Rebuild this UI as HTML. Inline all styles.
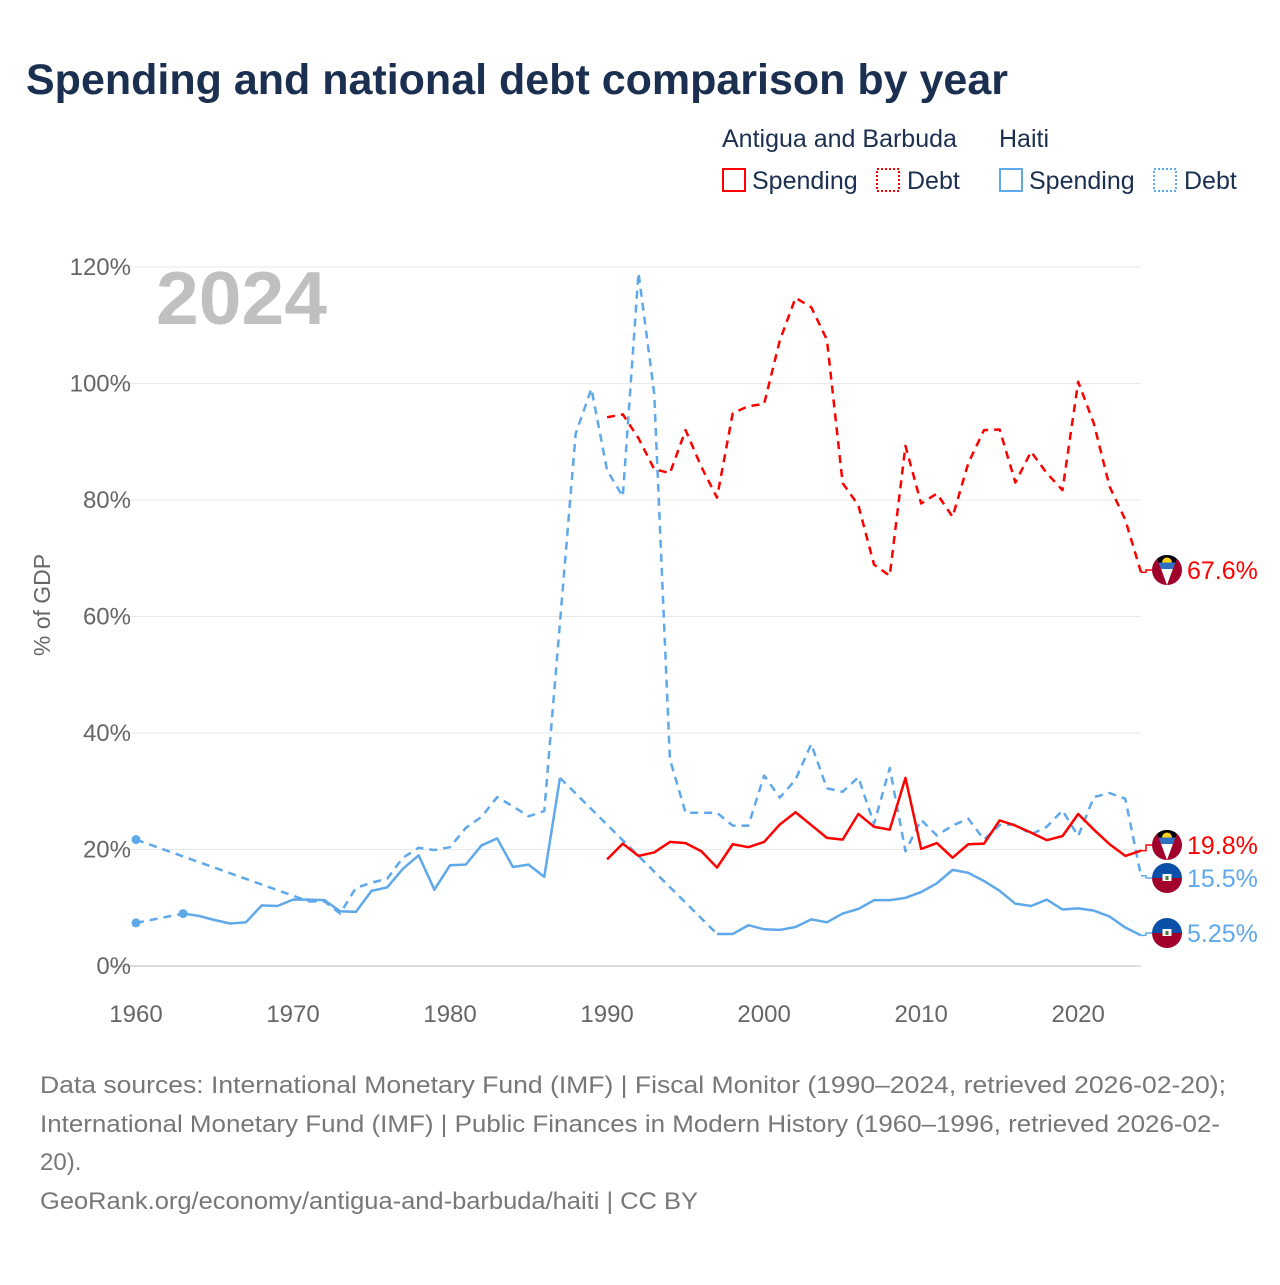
<!DOCTYPE html>
<html><head><meta charset="utf-8">
<style>
body{margin:0;background:#fff;width:1280px;height:1280px;overflow:hidden;font-family:"Liberation Sans",sans-serif}
svg text{font-family:"Liberation Sans",sans-serif}
</style></head>
<body>
<svg id="chart" width="1280" height="1280" viewBox="0 0 1280 1280" xmlns="http://www.w3.org/2000/svg">
<text x="26" y="94" font-size="43" font-weight="bold" fill="#1b2f50">Spending and national debt comparison by year</text>
<g font-size="25" fill="#1b2f50">
<text x="722" y="147">Antigua and Barbuda</text>
<text x="999" y="147">Haiti</text>
<g><rect x="723" y="169" width="22" height="22" fill="none" stroke="#f00" stroke-width="2"/><text x="752" y="189">Spending</text></g>
<g><rect x="877" y="169" width="22" height="22" fill="none" stroke="#f00" stroke-width="2" stroke-dasharray="2,2"/><text x="907" y="189">Debt</text></g>
<g><rect x="1000" y="169" width="22" height="22" fill="none" stroke="#5fa8ea" stroke-width="2"/><text x="1029" y="189">Spending</text></g>
<g><rect x="1154" y="169" width="22" height="22" fill="none" stroke="#5fa8ea" stroke-width="2" stroke-dasharray="2,2"/><text x="1184" y="189">Debt</text></g>
</g>
<g id="grid"></g>
<text x="156" y="324" font-size="75" font-weight="bold" fill="#c0c0c0" textLength="171" lengthAdjust="spacingAndGlyphs">2024</text>
<text transform="translate(50,605) rotate(-90)" text-anchor="middle" font-size="23" fill="#666">% of GDP</text>
<g id="series"></g>
<g id="endlabels"></g>
<g font-size="24" fill="#777">
<text x="40" y="1093" textLength="1186" lengthAdjust="spacingAndGlyphs">Data sources: International Monetary Fund (IMF) | Fiscal Monitor (1990–2024, retrieved 2026-02-20);</text>
<text x="40" y="1132" textLength="1180" lengthAdjust="spacingAndGlyphs">International Monetary Fund (IMF) | Public Finances in Modern History (1960–1996, retrieved 2026-02-</text>
<text x="40" y="1170">20).</text>
<text x="40" y="1209" textLength="658" lengthAdjust="spacingAndGlyphs">GeoRank.org/economy/antigua-and-barbuda/haiti | CC BY</text>
</g>
</svg>
<script>
const yTicks=[0,20,40,60,80,100,120];
const xTicks=[1960,1970,1980,1990,2000,2010,2020];
const agYears=[1990,1991,1992,1993,1994,1995,1996,1997,1998,1999,2000,2001,2002,2003,2004,2005,2006,2007,2008,2009,2010,2011,2012,2013,2014,2015,2016,2017,2018,2019,2020,2021,2022,2023,2024];
const agSpending=[18.3,21,18.9,19.5,21.3,21.1,19.7,16.9,20.9,20.4,21.3,24.3,26.4,24.2,22,21.7,26.1,23.9,23.4,32.3,20.1,21.1,18.6,20.9,21,25,24.1,22.9,21.6,22.3,26.1,23.4,20.9,18.9,19.8];
const agDebt=[94.2,94.7,90.6,85.3,84.6,92,85.7,80.4,94.9,96.1,96.5,107.4,114.7,113.1,107.5,82.9,79.1,68.9,67,89.3,79.4,81.1,77.1,86.3,92,92.1,83,88.3,84.6,81.7,100.3,93.1,82.3,76.6,67.6];
const htYears=[1960,1961,1962,1963,1964,1965,1966,1967,1968,1969,1970,1971,1972,1973,1974,1975,1976,1977,1978,1979,1980,1981,1982,1983,1984,1985,1986,1987,1988,1989,1990,1991,1992,1993,1994,1995,1996,1997,1998,1999,2000,2001,2002,2003,2004,2005,2006,2007,2008,2009,2010,2011,2012,2013,2014,2015,2016,2017,2018,2019,2020,2021,2022,2023,2024];
const htSpending=[7.4,null,null,9.0,8.6,7.9,7.3,7.5,10.4,10.3,11.4,11.4,11.3,9.4,9.3,12.9,13.5,16.7,19,13.1,17.3,17.4,20.7,21.9,17,17.4,15.3,32.3,null,null,null,null,null,null,null,null,null,5.5,5.5,7.0,6.3,6.2,6.7,8.0,7.5,9.0,9.8,11.3,11.3,11.7,12.7,14.2,16.5,16.0,14.6,12.9,10.7,10.3,11.4,9.7,9.9,9.5,8.5,6.6,5.25];
const htDebt=[21.7,null,null,null,null,null,null,null,null,null,null,11.1,11.1,9.0,13.4,14.3,15,18.6,20.3,19.9,20.4,23.7,25.6,29,27.4,25.7,26.6,59,91.4,99.1,85.1,80.6,119,98.3,35.5,26.3,26.3,26.3,24.1,24.1,32.7,28.9,32,38.1,30.5,29.9,32.4,24.4,34,19.7,25.1,22.4,24.1,25.3,21.7,24.2,24.3,22.6,23.9,26.7,22.3,29,29.7,28.7,15.5];

const NS='http://www.w3.org/2000/svg';
const x=y=>136+(y-1960)*(1141-136)/64;
const yv=v=>966-v*(966-267)/120;
function mk(tag,attrs,parent){const e=document.createElementNS(NS,tag);for(const k in attrs)e.setAttribute(k,attrs[k]);parent.appendChild(e);return e;}
const grid=document.getElementById('grid');
yTicks.forEach(t=>{
  const l=mk('line',{x1:110,x2:1141,y1:yv(t),y2:yv(t),stroke:t===0?'#ddd':'#e8e8e8','stroke-width':t===0?2:1},grid);
  
  
  const tx=mk('text',{x:131,y:yv(t)+8,'text-anchor':'end','font-size':24,fill:'#666'},grid);
  tx.textContent=t+'%';
  
  
});
xTicks.forEach(t=>{
  const tx=mk('text',{x:x(t),y:1022,'text-anchor':'middle','font-size':24,fill:'#666'},grid);
  tx.textContent=t;
  
  
});
const series=document.getElementById('series');
function draw(years,vals,color,dashed,name){
  const g=mk('g',{},series);
  
  
  const pts=years.map((y,i)=>vals[i]==null?null:[x(y),yv(vals[i])]);
  let segs=[],cur=[];
  pts.forEach(p=>{if(p)cur.push(p);else if(cur.length){segs.push(cur);cur=[];}});
  if(cur.length)segs.push(cur);
  for(let i=0;i<segs.length-1;i++){
    const a=segs[i][segs[i].length-1],b=segs[i+1][0];
    mk('line',{x1:a[0],y1:a[1],x2:b[0],y2:b[1],stroke:color,'stroke-width':2.5,'stroke-dasharray':'8,6'},g);
  }
  segs.forEach(s=>{
    if(s.length>1)mk('polyline',{points:s.map(p=>p.join(',')).join(' '),fill:'none',stroke:color,'stroke-width':2.5,'stroke-dasharray':dashed?'8,6':'none','stroke-linejoin':'round'},g);
    if(s.length===1)mk('circle',{cx:s[0][0],cy:s[0][1],r:4.5,fill:color},g);
  });
  return pts;
}
draw(htYears,htDebt,'#5fa8ea',true,'haiti-debt-line');
draw(htYears,htSpending,'#5fa8ea',false,'haiti-spending-line');
mk('circle',{cx:x(1963),cy:yv(htSpending[3]),r:4.5,fill:'#5fa8ea'},series);
draw(agYears,agDebt,'#f00',true,'antigua-debt-line');
draw(agYears,agSpending,'#f00',false,'antigua-spending-line');

const el=document.getElementById('endlabels');
function flag(cx,cy,type,parent){
  const g=mk('g',{},parent);
  const id='c'+Math.round(cy);
  const cp=mk('clipPath',{id:id},g);mk('circle',{cx:cx,cy:cy,r:15},cp);
  const f=mk('g',{'clip-path':'url(#'+id+')'},g);
  if(type==='ag'){
    mk('rect',{x:cx-15,y:cy-15,width:30,height:30,fill:'#a0002a'},f);
    mk('polygon',{points:`${cx-11},${cy-15} ${cx+11},${cy-15} ${cx},${cy+15}`,fill:'#fff'},f);
    mk('polygon',{points:`${cx-11},${cy-15} ${cx+11},${cy-15} ${cx+6},${cy-1} ${cx-6},${cy-1}`,fill:'#2f6fbf'},f);
    mk('polygon',{points:`${cx-11},${cy-15} ${cx+11},${cy-15} ${cx+8.5},${cy-7.5} ${cx-8.5},${cy-7.5}`,fill:'#000'},f);
    mk('path',{d:`M${cx-5},${cy-7.5} A5,5 0 0 1 ${cx+5},${cy-7.5} Z`,fill:'#fcd116'},f);
  }else{
    mk('rect',{x:cx-15,y:cy-15,width:30,height:15,fill:'#0a4fa8'},f);
    mk('rect',{x:cx-15,y:cy,width:30,height:15,fill:'#a0002a'},f);
    mk('rect',{x:cx-4.5,y:cy-4,width:9,height:7,fill:'#fff'},f);
    mk('rect',{x:cx-1.5,y:cy-2,width:3,height:4,fill:'#4a7a3a'},f);
  }
  return g;
}
const labels=[
  {v:agDebt[agDebt.length-1],ly:570,c:'#f00',t:'67.6%',f:'ag',n:'antigua-debt-end-label'},
  {v:agSpending[agSpending.length-1],ly:845,c:'#f00',t:'19.8%',f:'ag',n:'antigua-spending-end-label'},
  {v:htDebt[htDebt.length-1],ly:878,c:'#5fa8ea',t:'15.5%',f:'ht',n:'haiti-debt-end-label'},
  {v:htSpending[htSpending.length-1],ly:933,c:'#5fa8ea',t:'5.25%',f:'ht',n:'haiti-spending-end-label'}
];
labels.forEach(L=>{
  const g=mk('g',{},el);
  
  
  const y0=yv(L.v);
  mk('polyline',{points:`1141,${y0} 1146,${y0} 1146,${L.ly} 1152,${L.ly}`,fill:'none',stroke:L.c,'stroke-width':1.5},g);
  flag(1167,L.ly,L.f,g);
  const t=mk('text',{x:1187,y:L.ly+9,'font-size':25,fill:L.c},g);
  t.textContent=L.t;
});
</script>
</body></html>
